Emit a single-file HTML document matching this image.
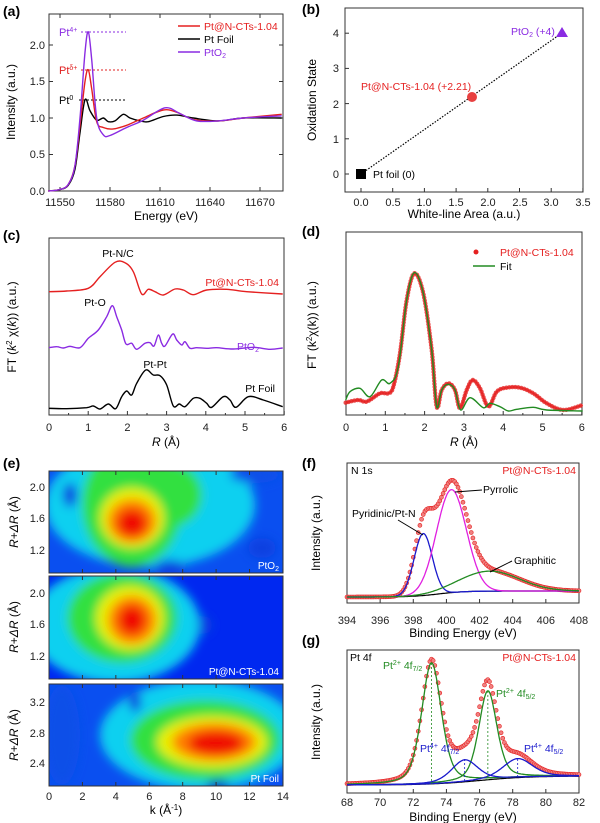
<!DOCTYPE html>
<html><head><meta charset="utf-8"><style>
html,body{margin:0;padding:0;background:#fff;}
svg{display:block;font-family:"Liberation Sans",Arial,sans-serif;}
</style></head><body>
<svg id="s" width="600" height="823" viewBox="0 0 600 823" xmlns="http://www.w3.org/2000/svg">
<defs>
<filter id="bl" x="-50%" y="-50%" width="200%" height="200%"><feGaussianBlur stdDeviation="5"/></filter>
<clipPath id="e1"><rect x="49" y="471" width="234" height="102"/></clipPath>
<clipPath id="e2"><rect x="49" y="576" width="234" height="103"/></clipPath>
<clipPath id="e3"><rect x="49" y="684" width="234" height="102"/></clipPath>
</defs>
<g font-size="14" font-weight="bold" fill="#000">
<text x="3" y="16">(a)</text><text x="302" y="14">(b)</text>
<text x="3" y="240">(c)</text><text x="302" y="236">(d)</text>
<text x="3" y="468">(e)</text><text x="302" y="468">(f)</text><text x="302" y="645">(g)</text>
</g>

<!-- heatmaps -->
<g clip-path="url(#e1)">
<rect x="49" y="471" width="234" height="102" fill="#0a4ff0"/>
<g filter="url(#bl)">
<ellipse cx="150" cy="505" rx="105" ry="62" fill="#10d0f0"/>
<ellipse cx="132" cy="505" rx="50" ry="62" fill="#30e040"/>
<ellipse cx="170" cy="495" rx="32" ry="32" fill="#30e040"/>
<ellipse cx="132" cy="518" rx="32" ry="30" fill="#e8f000"/>
<ellipse cx="132" cy="521" rx="24" ry="22" fill="#ff8000"/>
<ellipse cx="132" cy="523" rx="15" ry="14" fill="#f01000"/>
<ellipse cx="70" cy="495" rx="7" ry="12" fill="#0a40e0"/>
<ellipse cx="170" cy="568" rx="16" ry="8" fill="#0a40e0"/>
<ellipse cx="262" cy="548" rx="14" ry="10" fill="#0a40e0"/>
<ellipse cx="255" cy="475" rx="25" ry="8" fill="#0a50e8"/>
</g></g>
<g clip-path="url(#e2)">
<rect x="49" y="576" width="234" height="103" fill="#0028f0"/>
<g filter="url(#bl)">
<ellipse cx="115" cy="625" rx="85" ry="58" fill="#10d0f0"/>
<ellipse cx="122" cy="618" rx="55" ry="45" fill="#30e040"/>
<ellipse cx="130" cy="618" rx="34" ry="32" fill="#e8f000"/>
<ellipse cx="132" cy="620" rx="24" ry="24" fill="#ff8000"/>
<ellipse cx="132" cy="620" rx="14" ry="15" fill="#f01000"/>
<ellipse cx="205" cy="625" rx="7" ry="9" fill="#0a40e0"/>
</g></g>
<g clip-path="url(#e3)">
<rect x="49" y="684" width="234" height="102" fill="#0a4ff0"/>
<g filter="url(#bl)">
<ellipse cx="200" cy="735" rx="100" ry="55" fill="#10d0f0"/>
<ellipse cx="205" cy="740" rx="75" ry="40" fill="#30e040"/>
<ellipse cx="212" cy="742" rx="55" ry="26" fill="#e8f000"/>
<ellipse cx="214" cy="742" rx="42" ry="19" fill="#ff8000"/>
<ellipse cx="216" cy="743" rx="28" ry="12" fill="#f01000"/>
<ellipse cx="135" cy="702" rx="6" ry="10" fill="#0a40e0"/>
<ellipse cx="218" cy="788" rx="12" ry="8" fill="#0030d0"/>
<ellipse cx="62" cy="735" rx="18" ry="50" fill="#0a50e8"/>
</g></g>
<g fill="none" stroke="#333" stroke-width="1">
<rect x="49" y="471" width="234" height="102"/><rect x="49" y="576" width="234" height="103"/><rect x="49" y="684" width="234" height="102"/>
</g>
<g font-size="10" fill="#fff" text-anchor="end">
<text x="279" y="569">PtO<tspan font-size="7" dy="2">2</tspan></text>
<text x="279" y="675">Pt@N-CTs-1.04</text>
<text x="279" y="782">Pt Foil</text>
</g>
<g font-size="11" fill="#222" text-anchor="end">
<text x="45" y="491">2.0</text><text x="45" y="522">1.6</text><text x="45" y="554">1.2</text>
<text x="45" y="597">2.0</text><text x="45" y="628">1.6</text><text x="45" y="660">1.2</text>
<text x="45" y="706">3.2</text><text x="45" y="737">2.8</text><text x="45" y="767">2.4</text>
</g>
<g font-size="11" fill="#222" text-anchor="middle" id="ek"></g>
<text x="166" y="814" font-size="12" text-anchor="middle">k (Å<tspan font-size="8" dy="-4">-1</tspan><tspan dy="4">)</tspan></text>
<g font-size="12">
<text transform="translate(18,522) rotate(-90)" text-anchor="middle"><tspan font-style="italic">R</tspan>+<tspan font-style="italic">ΔR</tspan> (Å)</text>
<text transform="translate(18,627) rotate(-90)" text-anchor="middle"><tspan font-style="italic">R</tspan>+<tspan font-style="italic">ΔR</tspan> (Å)</text>
<text transform="translate(18,735) rotate(-90)" text-anchor="middle"><tspan font-style="italic">R</tspan>+<tspan font-style="italic">ΔR</tspan> (Å)</text>
</g>

<!-- frames -->
<g fill="none" stroke="#333" stroke-width="1">
<rect x="49" y="14" width="234" height="177"/>
<rect x="345" y="8" width="238" height="184"/>
<rect x="49" y="238" width="235" height="177"/>
<rect x="346" y="232" width="236" height="183"/>
<rect x="347" y="463" width="232" height="140"/>
<rect x="347" y="650" width="232" height="143"/>
</g>
<g id="ticks" stroke="#333" stroke-width="1"></g>

<!-- (a) text -->
<g font-size="11" fill="#222">
<g text-anchor="end"><text x="45" y="195">0.0</text><text x="45" y="158">0.5</text><text x="45" y="122">1.0</text><text x="45" y="85">1.5</text><text x="45" y="49">2.0</text></g>
<g text-anchor="middle"><text x="60" y="206">11550</text><text x="110" y="206">11580</text><text x="160" y="206">11610</text><text x="210" y="206">11640</text><text x="260" y="206">11670</text></g>
</g>
<text x="166" y="220" font-size="12" text-anchor="middle">Energy (eV)</text>
<text transform="translate(15,102) rotate(-90)" font-size="12" text-anchor="middle">Intensity (a.u.)</text>
<g stroke-dasharray="2,2" stroke-width="1">
<line x1="81" y1="32" x2="126" y2="32" stroke="#8a2be2"/>
<line x1="81" y1="70" x2="126" y2="70" stroke="#e02020"/>
<line x1="79" y1="100" x2="126" y2="100" stroke="#000"/>
</g>
<g font-size="11">
<text x="59" y="36" fill="#8a2be2">Pt<tspan font-size="7" dy="-4">4+</tspan></text>
<text x="59" y="74" fill="#e02020">Pt<tspan font-size="7" dy="-4">δ+</tspan></text>
<text x="59" y="104" fill="#000">Pt<tspan font-size="7" dy="-4">0</tspan></text>
</g>
<g stroke-width="1.5"><line x1="178" y1="26" x2="200" y2="26" stroke="#e52020"/><line x1="178" y1="39" x2="200" y2="39" stroke="#000"/><line x1="178" y1="52" x2="200" y2="52" stroke="#8a2be2"/></g>
<g font-size="10.5"><text x="204" y="30" fill="#e52020">Pt@N-CTs-1.04</text><text x="204" y="43">Pt Foil</text><text x="204" y="56" fill="#8a2be2">PtO<tspan font-size="7" dy="2">2</tspan></text></g>
<g id="ga" fill="none" stroke-width="1.4"></g>

<!-- (b) -->
<g font-size="11" fill="#222">
<g text-anchor="end"><text x="339" y="178">0</text><text x="339" y="143">1</text><text x="339" y="108">2</text><text x="339" y="72">3</text><text x="339" y="37">4</text></g>
<g text-anchor="middle"><text x="361" y="206">0.0</text><text x="393" y="206">0.5</text><text x="424" y="206">1.0</text><text x="456" y="206">1.5</text><text x="488" y="206">2.0</text><text x="520" y="206">2.5</text><text x="551" y="206">3.0</text><text x="583" y="206">3.5</text></g>
</g>
<text x="464" y="218" font-size="12" text-anchor="middle">White-line Area (a.u.)</text>
<text transform="translate(316,100) rotate(-90)" font-size="12" text-anchor="middle">Oxidation State</text>
<line x1="361" y1="174" x2="562" y2="33" stroke="#000" stroke-dasharray="1.5,1.5" stroke-width="1.2"/>
<rect x="356" y="169" width="10" height="10" fill="#000"/>
<circle cx="472" cy="97" r="5" fill="#e84040"/>
<polygon points="562,27 556,37 568,37" fill="#8a2be2"/>
<text x="373" y="178" font-size="10.5">Pt foil (0)</text>
<text x="361" y="90" font-size="10.5" fill="#e52020">Pt@N-CTs-1.04 (+2.21)</text>
<text x="511" y="35" font-size="10.5" fill="#8a2be2">PtO<tspan font-size="7" dy="2">2</tspan><tspan dy="-2"> (+4)</tspan></text>

<!-- (c) -->
<g font-size="11" fill="#222" text-anchor="middle" id="rl"></g>
<text x="166" y="446" font-size="12" text-anchor="middle"><tspan font-style="italic">R</tspan> (Å)</text>
<text x="464" y="446" font-size="12" text-anchor="middle"><tspan font-style="italic">R</tspan> (Å)</text>
<text transform="translate(16,327) rotate(-90)" font-size="12" text-anchor="middle">FT (<tspan font-style="italic">k</tspan><tspan font-size="8" dy="-4">2</tspan><tspan dy="4"> χ(</tspan><tspan font-style="italic">k</tspan>)) (a.u.)</text>
<text transform="translate(316,325) rotate(-90)" font-size="12" text-anchor="middle">FT (k<tspan font-size="8" dy="-4">2</tspan><tspan dy="4">χ(k)) (a.u.)</tspan></text>
<g font-size="10.5">
<text x="118" y="257" text-anchor="middle">Pt-N/C</text>
<text x="279" y="286" text-anchor="end" fill="#e52020">Pt@N-CTs-1.04</text>
<text x="95" y="306" text-anchor="middle">Pt-O</text>
<text x="259" y="350" text-anchor="end" fill="#8a2be2">PtO<tspan font-size="7" dy="2">2</tspan></text>
<text x="155" y="368" text-anchor="middle">Pt-Pt</text>
<text x="275" y="392" text-anchor="end">Pt Foil</text>
</g>
<g id="gc" fill="none" stroke-width="1.4"></g>

<!-- (d) -->
<circle cx="476" cy="252" r="2.5" fill="#e52020"/>
<line x1="473" y1="266" x2="495" y2="266" stroke="#228b22" stroke-width="1.5"/>
<text x="500" y="256" font-size="10.5" fill="#e52020">Pt@N-CTs-1.04</text>
<text x="500" y="270" font-size="10.5">Fit</text>
<g id="gd"></g>

<!-- (f) -->
<g font-size="11" fill="#222" text-anchor="middle" id="fl"></g>
<text x="463" y="637" font-size="12" text-anchor="middle">Binding Energy (eV)</text>
<text transform="translate(320,533) rotate(-90)" font-size="12" text-anchor="middle">Intensity (a.u.)</text>
<text x="351" y="474" font-size="10.5">N 1s</text>
<text x="576" y="474" font-size="10.5" fill="#e52020" text-anchor="end">Pt@N-CTs-1.04</text>
<g id="gf" fill="none"></g>
<g font-size="10.5">
<text x="352" y="517">Pyridinic/Pt-N</text>
<text x="483" y="493">Pyrrolic</text>
<text x="514" y="564">Graphitic</text>
</g>
<g stroke="#000" stroke-width="1" fill="none">
<line x1="398" y1="520" x2="423" y2="535"/><line x1="482" y1="490" x2="455" y2="492"/><line x1="512" y1="561" x2="490" y2="572"/>
</g>

<!-- (g) -->
<g font-size="11" fill="#222" text-anchor="middle" id="gl"></g>
<text x="463" y="821" font-size="12" text-anchor="middle">Binding Energy (eV)</text>
<text transform="translate(320,722) rotate(-90)" font-size="12" text-anchor="middle">Intensity (a.u.)</text>
<text x="350" y="661" font-size="10.5">Pt 4f</text>
<text x="576" y="661" font-size="10.5" fill="#e52020" text-anchor="end">Pt@N-CTs-1.04</text>
<g id="gg" fill="none"></g>
<g font-size="10.5">
<text x="383" y="669" fill="#228b22">Pt<tspan font-size="7" dy="-4">2+</tspan><tspan dy="4"> 4f</tspan><tspan font-size="7" dy="2">7/2</tspan></text>
<text x="496" y="697" fill="#228b22">Pt<tspan font-size="7" dy="-4">2+</tspan><tspan dy="4"> 4f</tspan><tspan font-size="7" dy="2">5/2</tspan></text>
<text x="420" y="752" fill="#1a1acc">Pt<tspan font-size="7" dy="-4">4+</tspan><tspan dy="4"> 4f</tspan><tspan font-size="7" dy="2">7/2</tspan></text>
<text x="524" y="752" fill="#1a1acc">Pt<tspan font-size="7" dy="-4">4+</tspan><tspan dy="4"> 4f</tspan><tspan font-size="7" dy="2">5/2</tspan></text>
</g>
</svg>
<script>
const NS="http://www.w3.org/2000/svg";
function el(p,t,a){const e=document.createElementNS(NS,t);for(const k in a)e.setAttribute(k,a[k]);p.appendChild(e);return e;}
function cr(p){let d="M"+p[0][0].toFixed(1)+","+p[0][1].toFixed(1);for(let i=0;i<p.length-1;i++){const p0=p[i-1]||p[i],p1=p[i],p2=p[i+1],p3=p[i+2]||p2;const c1=[p1[0]+(p2[0]-p0[0])/6,p1[1]+(p2[1]-p0[1])/6],c2=[p2[0]-(p3[0]-p1[0])/6,p2[1]-(p3[1]-p1[1])/6];d+="C"+c1[0].toFixed(1)+","+c1[1].toFixed(1)+" "+c2[0].toFixed(1)+","+c2[1].toFixed(1)+" "+p2[0].toFixed(1)+","+p2[1].toFixed(1);}return d;}
function poly(p){return "M"+p.map(q=>q[0].toFixed(1)+","+q[1].toFixed(1)).join("L");}
const T=document.getElementById("ticks");
function tk(x1,y1,x2,y2){el(T,"line",{x1,y1,x2,y2});}
for(let e=11550;e<=11670;e+=30){const x=49+(e-11543.4)*50/30;tk(x,191,x,187);tk(x,14,x,18);}
for(let v=0;v<=2;v+=0.5){const y=191-v*73;tk(49,y,53,y);tk(283,y,279,y);}
for(let v=0;v<=3.5;v+=0.5){const x=361+v*63.4;tk(x,192,x,188);}
for(let v=0;v<=4;v++){const y=174-v*35.2;tk(345,y,349,y);}
const rl=document.getElementById("rl");
for(let r=0;r<=6;r++){const x=49+r*39.2;tk(x,415,x,411);const t=el(rl,"text",{x,y:431});t.textContent=r;
const x2=346+r*39.3;tk(x2,415,x2,411);const t2=el(rl,"text",{x:x2,y:431});t2.textContent=r;}
for(let r=0.5;r<6;r+=1){tk(49+r*39.2,415,49+r*39.2,413);tk(346+r*39.3,415,346+r*39.3,413);}
const ek=document.getElementById("ek");
for(let k=0;k<=14;k+=2){const x=49+k*16.71;const t=el(ek,"text",{x,y:800});t.textContent=k;
[[471,573],[576,679],[684,786]].forEach(([a,b])=>{tk(x,b,x,b-4);tk(x,a,x,a+4);});}
const fl=document.getElementById("fl"),gl=document.getElementById("gl");
for(let i=0;i<=7;i++){const x=347+i*33.14;tk(x,603,x,599);tk(x,793,x,789);
let t=el(fl,"text",{x,y:624});t.textContent=394+2*i;t=el(gl,"text",{x,y:806});t.textContent=68+2*i;}
const XA=e=>49+(e-11543.4)*50/30, YA=v=>191-v*73;
const ptf=[[11543,0],[11550,0.02],[11555,0.08],[11559,0.3],[11562,0.8],[11565,1.25],[11568,1.1],[11572,0.97],[11576,1.0],[11579,0.95],[11583,0.96],[11588,1.05],[11592,1.0],[11598,0.96],[11603,0.95],[11612,1.02],[11620,1.04],[11630,1.0],[11645,0.96],[11660,1.0],[11683,1.0]];
const red=[[11543,0],[11550,0.02],[11555,0.09],[11559,0.35],[11562,0.9],[11565,1.5],[11567,1.66],[11569,1.4],[11572,0.95],[11576,0.87],[11582,0.85],[11590,0.9],[11600,1.0],[11612,1.11],[11620,1.08],[11630,0.98],[11645,0.96],[11660,1.0],[11683,1.05]];
const pur=[[11543,0],[11550,0.02],[11555,0.09],[11559,0.35],[11562,1.0],[11565,1.9],[11567,2.18],[11569,1.8],[11572,1.0],[11576,0.77],[11580,0.76],[11590,0.87],[11600,0.97],[11613,1.14],[11622,1.06],[11632,0.96],[11645,0.96],[11660,1.0],[11683,1.03]];
const ga=document.getElementById("ga");
[[ptf,"#000"],[red,"#e52020"],[pur,"#8a2be2"]].forEach(([p,c])=>el(ga,"path",{d:cr(p.map(q=>[XA(q[0]),YA(q[1])])),stroke:c}));
const zc=p=>p.map(q=>[q[0]/3,210+q[1]/3]);
const cR=[[147,245],[200,243],[265,235],[300,200],[345,157],[375,158],[400,185],[425,252],[445,238],[465,245],[490,255],[525,237],[550,240],[580,254],[620,240],[680,238],[740,245],[848,252]];
const cP=[[147,413],[170,410],[190,414],[210,409],[240,413],[265,385],[295,360],[320,320],[337,287],[350,320],[365,360],[378,402],[395,400],[410,418],[435,400],[450,398],[462,408],[475,375],[485,400],[495,408],[518,372],[530,390],[545,405],[555,395],[570,415],[590,413],[620,415],[650,413],[700,417],[760,412],[810,418],[848,414]];
const cB=[[147,595],[200,596],[260,593],[280,588],[300,597],[325,582],[347,596],[365,560],[380,543],[395,555],[410,520],[437,480],[460,495],[480,497],[500,525],[520,588],[538,582],[555,590],[580,565],[600,565],[620,580],[635,592],[670,560],[690,570],[708,592],[745,560],[790,570],[848,590]];
const gc=document.getElementById("gc");
[[cR,"#e52020"],[cP,"#8a2be2"],[cB,"#000"]].forEach(([p,c])=>el(gc,"path",{d:cr(zc(p)),stroke:c}));
const zd=p=>p.map(q=>[300+q[0]/3,q[1]/3]);
const dG=[[137,1200],[150,1175],[180,1165],[210,1190],[245,1140],[270,1150],[295,1100],[320,900],[343,818],[370,880],[395,1050],[410,1220],[425,1170],[445,1153],[465,1170],[482,1230],[510,1193],[550,1223],[570,1210],[600,1220],[625,1233],[650,1228],[700,1222],[740,1230],[848,1233]];
const dR=[[137,1208],[175,1200],[200,1205],[240,1180],[265,1180],[280,1160],[300,1060],[320,900],[343,820],[370,880],[395,1050],[410,1220],[425,1170],[445,1150],[465,1170],[480,1225],[500,1170],[518,1140],[540,1165],[565,1220],[590,1175],[620,1163],[660,1163],[700,1180],[740,1210],[790,1230],[848,1215]];
const gd=document.getElementById("gd");
const rp=el(gd,"path",{d:cr(zd(dR)),fill:"none",stroke:"#f06060","stroke-width":2});
const L=rp.getTotalLength();for(let s=0;s<=L;s+=3){const pt=rp.getPointAtLength(s);el(gd,"circle",{cx:pt.x,cy:pt.y,r:2.2,fill:"#e52020","fill-opacity":0.8});}
el(gd,"path",{d:cr(zd(dG)),fill:"none",stroke:"#228b22","stroke-width":1.4});
const XF=e=>347+(e-394)*16.57;
const gs=(e,c,h,s)=>h*Math.exp(-((e-c)**2)/(2*s*s));
const bgF=e=>597-6/(1+Math.exp(-(e-399.5)/0.8));
let pB=[],pM=[],pG=[],pK=[],pS=[];
for(let e=394;e<=408.001;e+=0.05){const b=bgF(e),x=XF(e);const bl=gs(e,398.6,62,0.55),m=gs(e,400.3,103,0.9),g=gs(e,402.6,20,1.8);
pK.push([x,b]);pB.push([x,b-bl]);pM.push([x,b-m]);pG.push([x,b-g]);pS.push([x,b-bl-m-g]);}
const gf=document.getElementById("gf");
for(let i=0;i<pS.length;i+=2)el(gf,"circle",{cx:pS[i][0],cy:pS[i][1],r:2,fill:"#f08080",stroke:"#e52020","stroke-width":0.6});
el(gf,"path",{d:poly(pK),stroke:"#000","stroke-width":1.2});
el(gf,"path",{d:poly(pB),stroke:"#1a1acc","stroke-width":1.3});
el(gf,"path",{d:poly(pM),stroke:"#e020e0","stroke-width":1.3});
el(gf,"path",{d:poly(pG),stroke:"#228b22","stroke-width":1.3});
const XG=e=>347+(e-68)*16.57;
const pv=(e,c,h,s)=>h*(0.6*Math.exp(-((e-c)**2)/(2*s*s))+0.4/(1+((e-c)/(1.18*s))**2));
const bgG=e=>785-9/(1+Math.exp(-(e-76)/1.5));
let q1=[],q2=[],q3=[],q4=[],qk=[],qs=[];
for(let e=68;e<=82.001;e+=0.05){const b=bgG(e),x=XG(e);const a=pv(e,73.1,121,0.6),c=pv(e,76.5,89,0.55),d=pv(e,75.1,22,0.8),f=pv(e,78.3,19,0.9);
qk.push([x,b]);q1.push([x,b-a]);q2.push([x,b-c]);q3.push([x,b-d]);q4.push([x,b-f]);qs.push([x,b-a-c-d-f]);}
const gg=document.getElementById("gg");
for(let i=0;i<qs.length;i+=2)el(gg,"circle",{cx:qs[i][0],cy:qs[i][1],r:2,fill:"#f08080",stroke:"#e52020","stroke-width":0.6});
el(gg,"path",{d:poly(qk),stroke:"#000","stroke-width":1.2});
el(gg,"path",{d:poly(q1),stroke:"#228b22","stroke-width":1.3});
el(gg,"path",{d:poly(q2),stroke:"#228b22","stroke-width":1.3});
el(gg,"path",{d:poly(q3),stroke:"#1a1acc","stroke-width":1.3});
el(gg,"path",{d:poly(q4),stroke:"#1a1acc","stroke-width":1.3});
[[73.1,663,784],[76.5,691,780],[75.1,759,781],[78.3,759,779]].forEach(([e,a,b])=>el(gg,"line",{x1:XG(e),y1:a,x2:XG(e),y2:b,stroke:e===73.1||e===76.5?"#228b22":"#1a1acc","stroke-dasharray":"2,2","stroke-width":0.8}));
</script>
</body></html>
